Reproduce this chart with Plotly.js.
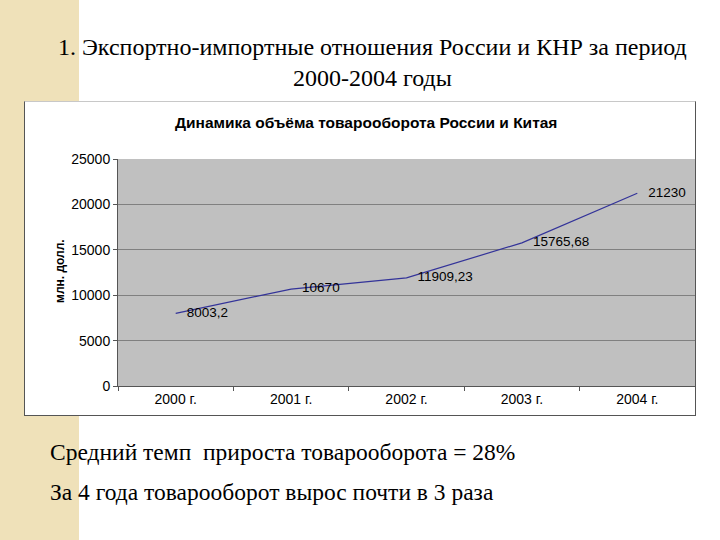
<!DOCTYPE html>
<html>
<head>
<meta charset="utf-8">
<script src="https://cdn.plot.ly/plotly-3.0.1.min.js"></script>
<style>
  html, body { margin:0; padding:0; }
  body { width:720px; height:540px; position:relative; overflow:hidden;
         background: linear-gradient(to right, #EFE1B9 0px, #EFE1B9 79px, #ffffff 79px); }
  #box { position:absolute; left:24px; top:101px; width:670px; height:313px; background:#ffffff;
         border:1px solid #555555; border-top-color:#c8c8c8; }
  #chart { position:absolute; left:0; top:0; width:720px; height:540px; }
</style>
</head>
<body>
<div id="box"></div>
<div id="chart"></div>
<script>
// Data
const categories = ["2000 г.", "2001 г.", "2002 г.", "2003 г.", "2004 г."];
const tradeVolume = [8003.2, 10670, 11909.23, 15765.68, 21230];
const valueLabels = tradeVolume.map(v => String(v).replace('.', ','));
const yTicks = [0, 5000, 10000, 15000, 20000, 25000];

const slideTitle = "1. Экспортно-импортные отношения России и КНР за период<br>2000-2004 годы";
const chartTitle = "Динамика объёма товарооборота России и Китая";
const yTitle = "млн. долл.";
const note1 = "Средний темп  прироста товарооборота = 28%";
const note2 = "За 4 года товарооборот вырос почти в 3 раза";

// Layout geometry (pixels)
const L = 118, R = 695, T = 159, B = 386;
const W = R - L, H = B - T;
const px = x => (x - L) / W;
const py = y => (B - y) / H;

const serif = 'Liberation Serif';
const sans = 'Liberation Sans, Arial, sans-serif';

const trace = {
  x: categories,
  y: tradeVolume,
  type: 'scatter',
  mode: 'lines+markers+text',
  line: {color: '#333399', width: 1.2},
  marker: {size: 16, color: 'rgba(0,0,0,0)'},
  text: valueLabels,
  textposition: 'middle right',
  textfont: {family: sans, size: 13.5, color: '#000000'},
  cliponaxis: false,
  hoverinfo: 'skip'
};

const layout = {
  width: 720, height: 540,
  margin: {l: L, r: 720 - R, t: T, b: 540 - B, pad: 0},
  paper_bgcolor: 'rgba(0,0,0,0)',
  plot_bgcolor: '#C0C0C0',
  showlegend: false,
  xaxis: {
    type: 'category',
    tickson: 'boundaries',
    ticks: 'outside', ticklen: 4, tickcolor: '#555555',
    showgrid: false,
    showline: true, linecolor: '#555555', linewidth: 1,
    tickfont: {family: sans, size: 14, color: '#000000'},
    range: [-0.5, 4.5],
    fixedrange: true
  },
  yaxis: {
    range: [0, 25000],
    tickvals: yTicks,
    ticktext: yTicks.map(String),
    ticks: 'outside', ticklen: 4, tickcolor: '#555555',
    showgrid: true, gridcolor: '#808080', gridwidth: 1,
    zeroline: false,
    showline: true, linecolor: '#555555', linewidth: 1,
    tickfont: {family: sans, size: 14, color: '#000000'},
    fixedrange: true
  },
  annotations: [
    {text: slideTitle, xref: 'paper', yref: 'paper', x: px(372), y: py(62),
     xanchor: 'center', yanchor: 'middle', showarrow: false, align: 'center',
     font: {family: serif, size: 24, color: '#000000'}},
    {text: '<b>' + chartTitle + '</b>', xref: 'paper', yref: 'paper', x: px(366), y: py(122),
     xanchor: 'center', yanchor: 'middle', showarrow: false,
     font: {family: sans, size: 15.5, color: '#000000'}},
    {text: '<b>' + yTitle + '</b>', xref: 'paper', yref: 'paper', x: px(60), y: py(271),
     xanchor: 'center', yanchor: 'middle', showarrow: false, textangle: -90,
     font: {family: sans, size: 12, color: '#000000'}},
    {text: note1, xref: 'paper', yref: 'paper', x: px(48), y: py(452),
     xanchor: 'left', yanchor: 'middle', showarrow: false,
     font: {family: serif, size: 23.5, color: '#000000'}},
    {text: note2, xref: 'paper', yref: 'paper', x: px(48), y: py(492),
     xanchor: 'left', yanchor: 'middle', showarrow: false,
     font: {family: serif, size: 23.5, color: '#000000'}}
  ]
};

Plotly.newPlot('chart', [trace], layout, {displayModeBar: false, staticPlot: true});
</script>
</body>
</html>
